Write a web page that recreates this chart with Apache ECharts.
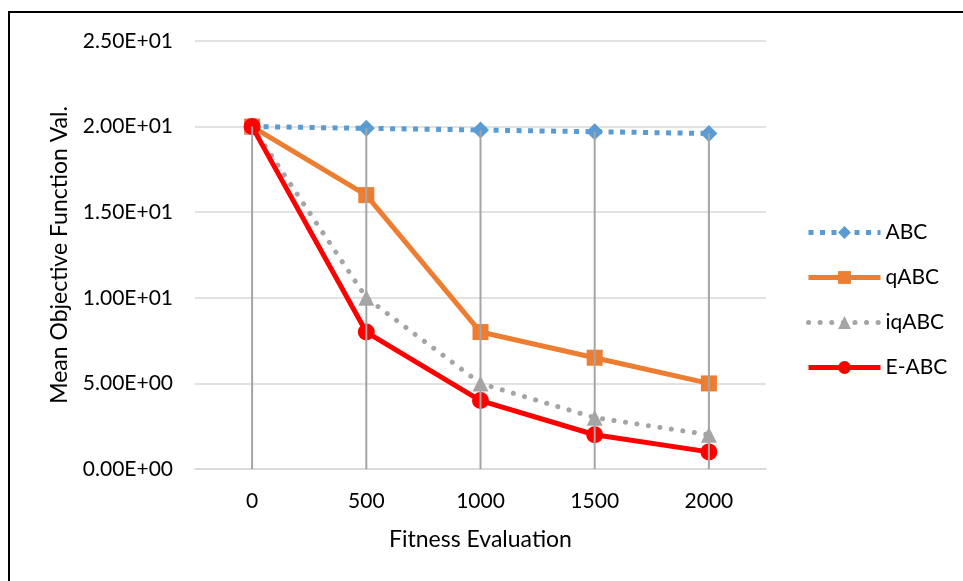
<!DOCTYPE html>
<html>
<head>
<meta charset="utf-8">
<script src="https://cdn.jsdelivr.net/npm/echarts@6/dist/echarts.min.js"></script>
<style>
html,body{margin:0;padding:0;background:#fff;}
#c{width:963px;height:581px;}
</style>
</head>
<body>
<div id="c"></div>
<script>
const categories = ['0', '500', '1000', '1500', '2000'];
const abc   = [20, 19.9, 19.8, 19.7, 19.6];
const qabc  = [20, 16, 8, 6.5, 5];
const iqabc = [20, 10, 5, 3, 2];
const eabc  = [20, 8, 4, 2, 1];
const yTicks = { min: 0, max: 25, interval: 5 };

const FONT = 'Lato';
function sci(v) {
  if (v === 0) return '0.00E+00';
  const e = Math.floor(Math.log10(Math.abs(v)));
  const m = v / Math.pow(10, e);
  const sign = e < 0 ? '-' : '+';
  const ea = Math.abs(e);
  return m.toFixed(2) + 'E' + sign + (ea < 10 ? '0' + ea : String(ea));
}
const dropLine = categories.map((c, i) => Math.max(abc[i], qabc[i], iqabc[i], eabc[i]));

const chart = echarts.init(document.getElementById('c'), null, { renderer: 'canvas' });
chart.setOption({
  animation: false,
  backgroundColor: '#fff',
  textStyle: { fontFamily: FONT, color: '#000' },
  graphic: [{
    type: 'rect',
    shape: { x: 9, y: 12, width: 1200, height: 1000 },
    style: { fill: 'none', stroke: '#000', lineWidth: 2 },
    silent: true, z: 100
  }],
  grid: { left: 195, right: 197, top: 41, bottom: 112 },
  legend: {
    orient: 'vertical',
    left: 806,
    top: 222,
    padding: 0,
    itemWidth: 72,
    itemHeight: 16,
    itemGap: 24,
    data: ['ABC', 'qABC', 'iqABC', 'E-ABC'],
    lineStyle: { width: 5 },
    textStyle: { fontFamily: FONT, fontSize: 21, color: '#000' }
  },
  xAxis: {
    type: 'category',
    data: categories,
    boundaryGap: true,
    name: 'Fitness Evaluation',
    nameLocation: 'middle',
    nameGap: 59,
    nameTextStyle: { fontFamily: FONT, fontSize: 23, color: '#000' },
    axisLine: { show: true, lineStyle: { color: '#d9d9d9', width: 1.5 } },
    axisTick: { show: false },
    axisLabel: { fontFamily: FONT, fontSize: 21, color: '#000', margin: 22 },
    splitLine: { show: false }
  },
  yAxis: {
    type: 'value',
    min: yTicks.min, max: yTicks.max, interval: yTicks.interval,
    name: 'Mean Objective Function Val.',
    nameLocation: 'middle',
    nameGap: 124,
    nameRotate: 90,
    nameTextStyle: { fontFamily: FONT, fontSize: 23, color: '#000' },
    axisLine: { show: false },
    axisTick: { show: false },
    axisLabel: { fontFamily: FONT, fontSize: 21, color: '#000', margin: 22, formatter: sci },
    splitLine: { lineStyle: { color: '#d9d9d9', width: 1.5 } }
  },
  series: [
    {
      name: 'drop', type: 'bar', data: dropLine, barWidth: 2,
      itemStyle: { color: '#a5a5a5' }, z: 10, silent: true, legendHoverLink: false,
      tooltip: { show: false }
    },
    {
      name: 'ABC', type: 'line', data: abc, z: 3,
      symbol: 'diamond', symbolSize: 17,
      itemStyle: { color: '#5b9bd5' },
      lineStyle: { color: '#5b9bd5', width: 5, type: [5, 6.5], cap: 'butt' }
    },
    {
      name: 'qABC', type: 'line', data: qabc, z: 4,
      symbol: 'rect', symbolSize: 16,
      itemStyle: { color: '#ed7d31' },
      lineStyle: { color: '#ed7d31', width: 5 }
    },
    {
      name: 'iqABC', type: 'line', data: iqabc, z: 5,
      symbol: 'triangle', symbolSize: 16,
      itemStyle: { color: '#a5a5a5' },
      lineStyle: { color: '#a5a5a5', width: 5, type: [0.1, 11.5], cap: 'round' }
    },
    {
      name: 'E-ABC', type: 'line', data: eabc, z: 6,
      symbol: 'circle', symbolSize: 17,
      itemStyle: { color: '#ff0000' },
      lineStyle: { color: '#ff0000', width: 5 }
    }
  ]
});
</script>
</body>
</html>
